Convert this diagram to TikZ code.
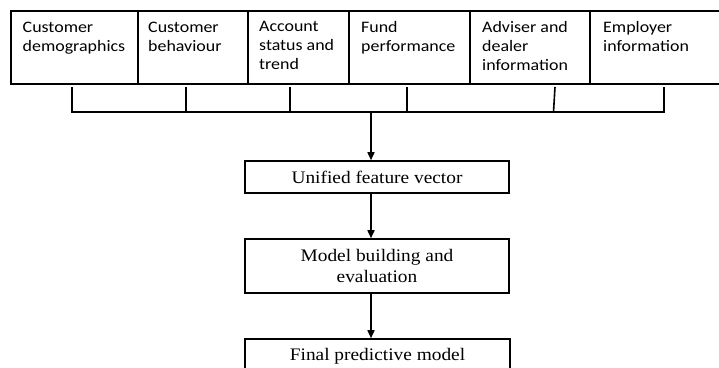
\documentclass[tikz,border=0pt]{standalone}
\usepackage{fontspec}
\setmainfont{Liberation Serif}[FakeStretch=1.1]
\newfontfamily\calfont{Carlito}[FakeStretch=1.12]
\usetikzlibrary{arrows.meta,calc}
\tikzset{
  topbox/.style={draw, line width=1.6pt, inner sep=0pt, minimum height=73pt, anchor=north west},
  toptext/.style={inner sep=0pt, anchor=north west, align=left, font=\calfont\fontsize{16}{19}\selectfont},
  flowbox/.style={draw, line width=1.6pt, inner sep=0pt, minimum width=264pt, align=center, font=\fontsize{17.6}{20.2}\selectfont},
  link/.style={line width=1.6pt},
  arr/.style={line width=1.6pt, -{Triangle[length=8pt, width=7pt]}}
}
\begin{document}
\begin{tikzpicture}[x=1pt, y=-1pt]
\useasboundingbox (0,0) rectangle (719,367);
\clip (0,0) rectangle (719,367);
% top boxes
\node[topbox, minimum width=127pt] (b1) at (10,10) {};
\node[topbox, minimum width=110pt] (b2) at (137,10) {};
\node[topbox, minimum width=101pt] (b3) at (247,10) {};
\node[topbox, minimum width=121pt] (b4) at (348,10) {};
\node[topbox, minimum width=120pt] (b5) at (469,10) {};
\node[topbox, minimum width=140pt] (b6) at (589,10) {};
\node[toptext] (l1) at ($(b1.north west)+(12.5,11.5)$) {Customer\\demographics};
\node[toptext] (l2) at ($(b2.north west)+(11,11.5)$) {Customer\\behaviour};
\node[toptext] (l3) at ($(b3.north west)+(12,11.5)$) {Account\\status and\\trend};
\node[toptext] (l4) at ($(b4.north west)+(13,11.5)$) {Fund\\performance};
\node[toptext] (l5) at ($(b5.north west)+(13,11.5)$) {Adviser and\\dealer\\information};
\node[toptext] (l6) at ($(b6.north west)+(14,11.5)$) {Employer\\information};
% bracket
\coordinate (t1) at (72,87);   \coordinate (u1) at (72,112);
\coordinate (t2) at (186,87);  \coordinate (u2) at (186,112);
\coordinate (t3) at (290,87);  \coordinate (u3) at (290,112);
\coordinate (t4) at (407,87);  \coordinate (u4) at (407,112);
\coordinate (t5) at (555,87);  \coordinate (u5) at (553.5,112);
\coordinate (t6) at (664,87);  \coordinate (u6) at (664,112);
\coordinate (m) at (371,112);
\draw[link] (t1) -- (u1) -- (u6) -- (t6);
\draw[link] (t2) -- (u2);
\draw[link] (t3) -- (u3);
\draw[link] (t4) -- (u4);
\draw[link] (t5) -- (u5);
% flow boxes
\node[flowbox, minimum height=32pt] (f1) at (377,177) {Unified feature vector};
\node[flowbox, minimum height=54pt] (f2) at (377,266) {Model building and\\evaluation};
\node[flowbox, minimum width=265pt, minimum height=34pt] (f3) at (377.5,356) {Final predictive model};
\draw[arr] (m) -- (m |- f1.north);
\draw[arr] (m |- f1.south) -- (m |- f2.north);
\draw[arr] (m |- f2.south) -- (m |- f3.north);
\end{tikzpicture}
\end{document}
